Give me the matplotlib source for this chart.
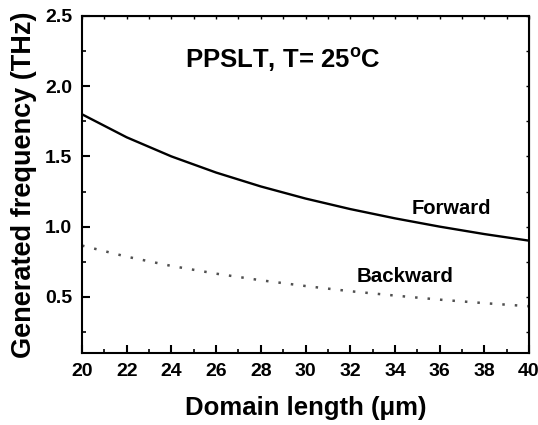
import matplotlib
matplotlib.use('Agg')
import matplotlib.pyplot as plt
from matplotlib.ticker import MultipleLocator

# Domain length (um) and generated THz frequency
domain_length = [20, 22, 24, 26, 28, 30, 32, 34, 36, 38, 40]
forward = [1.80, 1.636, 1.50, 1.385, 1.286, 1.20, 1.125, 1.059, 1.00, 0.947, 0.90]
backward = [0.865, 0.786, 0.72, 0.665, 0.618, 0.577, 0.54, 0.509, 0.48, 0.455, 0.433]

plt.rcParams['font.family'] = ['Liberation Sans', 'DejaVu Sans']
plt.rcParams['font.weight'] = 'bold'
plt.rcParams['mathtext.fontset'] = 'custom'
plt.rcParams['mathtext.rm'] = 'Liberation Sans:bold'
plt.rcParams['mathtext.default'] = 'rm'

fig = plt.figure(figsize=(5.38, 4.25), dpi=100)
ax = fig.add_axes([0.1524, 0.1694, 0.8309, 0.793])

ax.plot(domain_length, forward, color='black', linewidth=1.7)
ax.plot(domain_length, backward, color='#505050', linewidth=1.8, linestyle=(0, (1, 4)))

ax.set_xlim(20, 40)
ax.set_ylim(0.1, 2.5)
ax.xaxis.set_major_locator(MultipleLocator(2))
ax.xaxis.set_minor_locator(MultipleLocator(1))
ax.yaxis.set_major_locator(MultipleLocator(0.5))
ax.yaxis.set_minor_locator(MultipleLocator(0.25))
ax.set_yticks([0.5, 1.0, 1.5, 2.0, 2.5])

for s in ax.spines.values():
    s.set_linewidth(1.5)
ax.tick_params(which='major', direction='in', length=5.5, width=1.5, labelsize=14, pad=7)
ax.tick_params(which='minor', direction='in', length=3, width=1.2)

# small ticks on top and right, no labels
top = ax.secondary_xaxis('top')
top.xaxis.set_major_locator(MultipleLocator(1))
top.tick_params(direction='in', length=2, width=1, labeltop=False)
right = ax.secondary_yaxis('right')
right.yaxis.set_major_locator(MultipleLocator(0.25))
right.tick_params(direction='in', length=2, width=1, labelright=False)

ax.set_xlabel('Domain length (\u03bcm)', fontsize=18.5, fontweight='bold', labelpad=12)
ax.set_ylabel('Generated frequency (THz)', fontsize=19.5, fontweight='bold', labelpad=6)

ax.text(24.6, 2.19, 'PPSLT, T= 25$^{o}$C', fontsize=18.5, fontweight='bold', va='center')
ax.text(34.77, 1.13, 'Forward', fontsize=14.5, fontweight='bold', va='center')
ax.text(32.3, 0.646, 'Backward', fontsize=14.8, fontweight='bold', va='center')

fig.savefig('out.png', dpi=100)
